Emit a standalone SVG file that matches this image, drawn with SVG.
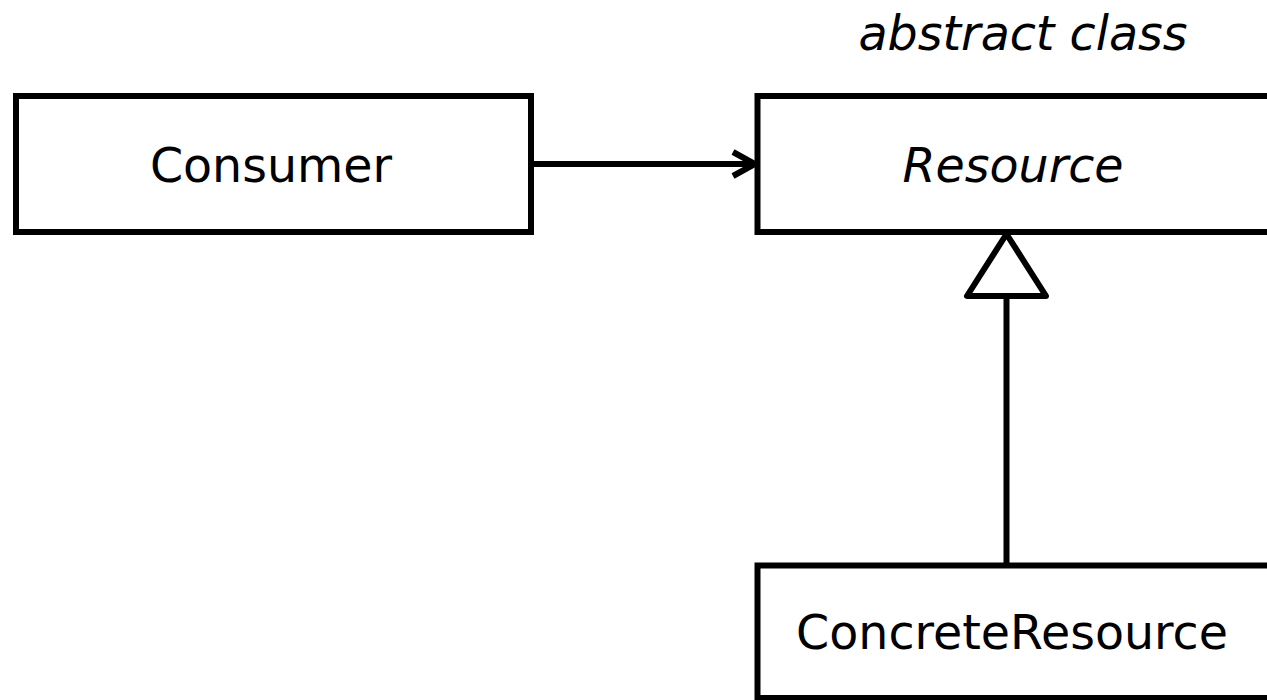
<svg xmlns="http://www.w3.org/2000/svg" width="1267" height="700" viewBox="0 0 1267 700">
  <style>
    .box { fill: #ffffff; stroke: #000000; stroke-width: 6; }
    .label { font-family: "DejaVu Sans", Verdana, sans-serif; font-size: 47.5px; fill: #000000; text-anchor: middle; }
    .italic { font-style: italic; }
    .edge { fill: none; stroke: #000000; stroke-width: 6; }
    .head { fill: #ffffff; stroke: #000000; stroke-width: 6; stroke-linejoin: round; }
  </style>
  <defs>
    <marker id="open-arrow" viewBox="0 0 26 30" refX="24" refY="15" markerWidth="26" markerHeight="30" markerUnits="userSpaceOnUse" orient="auto">
      <path d="M2,3 L24,15 L2,27" fill="none" stroke="#000000" stroke-width="6"/>
    </marker>
  </defs>
  <rect width="1267" height="700" fill="#ffffff"/>

  <g id="connectors">
    <!-- association: Consumer uses Resource -->
    <line class="edge" x1="531" y1="164" x2="755" y2="164" marker-end="url(#open-arrow)"/>
    <!-- generalization: ConcreteResource extends Resource -->
    <line class="edge" x1="1006.5" y1="296" x2="1006.5" y2="565.5"/>
    <polygon class="head" points="1006.5,234 967,296 1046,296"/>
  </g>

  <g id="consumer">
    <rect class="box" x="16" y="96" width="515" height="136"/>
    <text class="label" x="271" y="182">Consumer</text>
  </g>

  <g id="resource">
    <text class="label italic" x="1023" y="50">abstract class</text>
    <rect class="box" x="757.5" y="96" width="515" height="136"/>
    <text class="label italic" x="1013" y="182">Resource</text>
  </g>

  <g id="concrete-resource">
    <rect class="box" x="757.5" y="565.5" width="515" height="132.5"/>
    <text class="label" x="1012" y="649">ConcreteResource</text>
  </g>
</svg>
